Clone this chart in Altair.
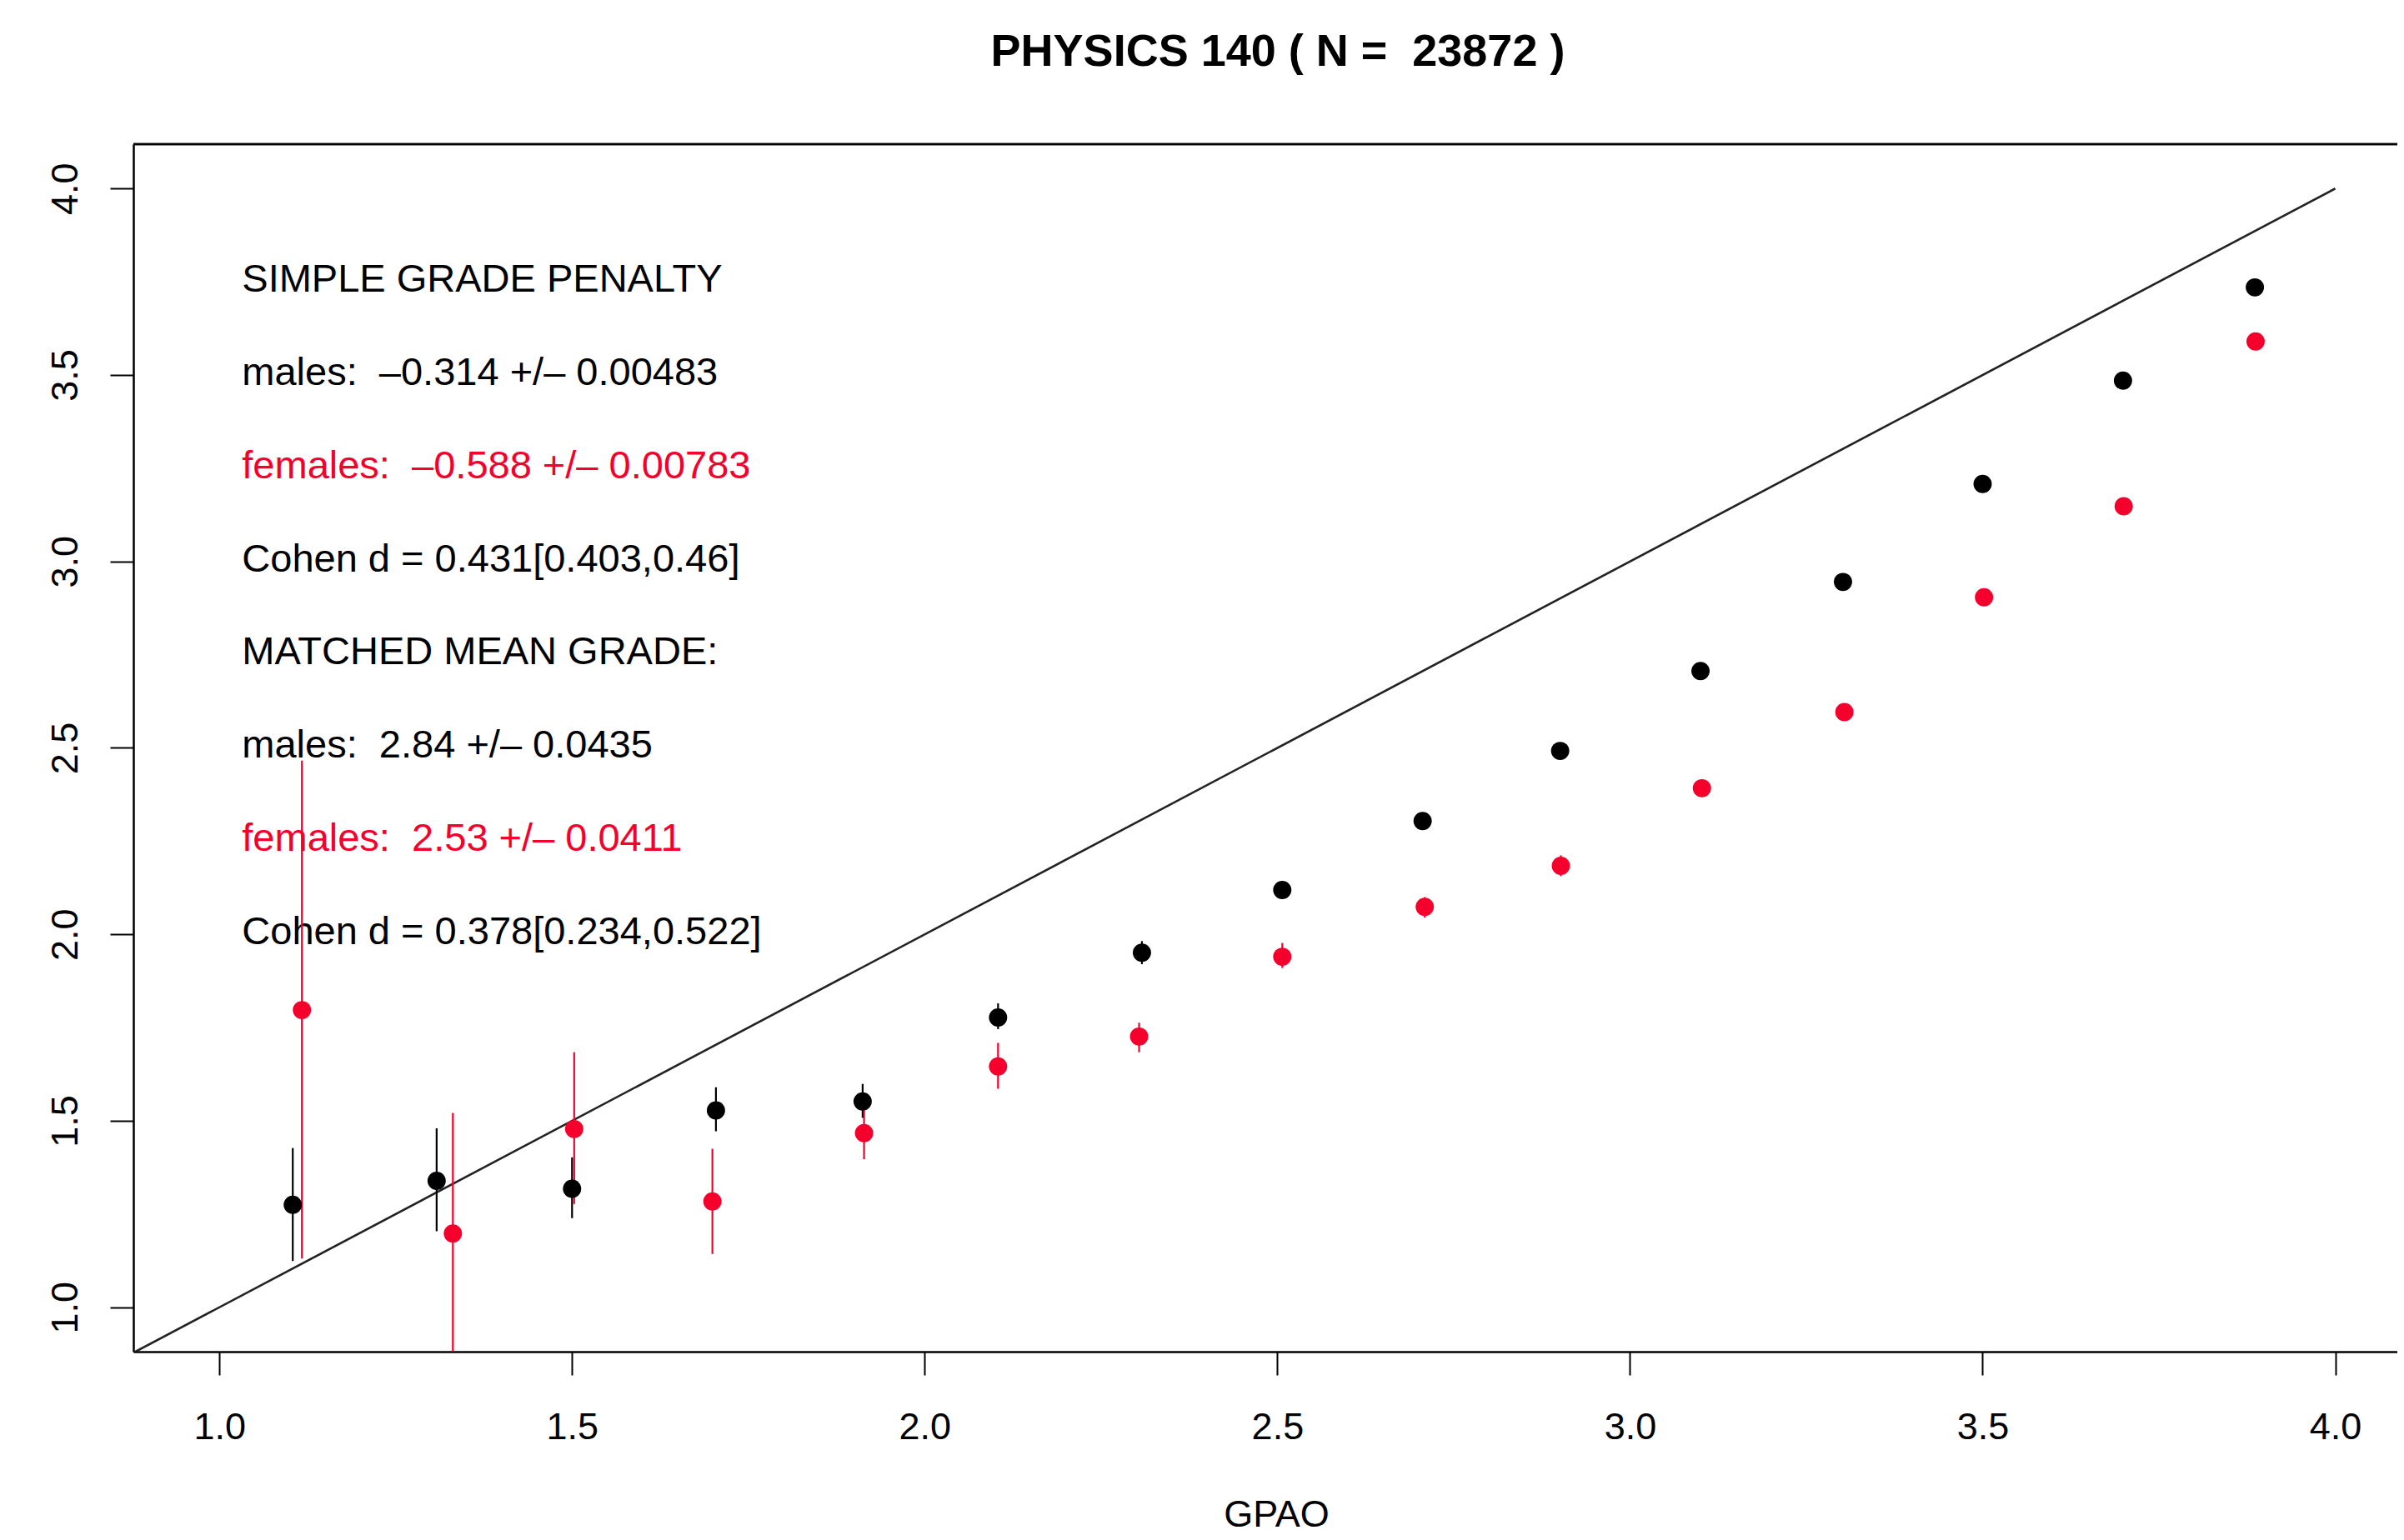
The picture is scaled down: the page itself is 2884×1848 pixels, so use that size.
import altair as alt
import pandas as pd

# ---------------- data ----------------
gpao_m = [1.104, 1.308, 1.500, 1.704, 1.912, 2.104, 2.308, 2.507, 2.706, 2.901, 3.100, 3.302, 3.500, 3.699, 3.886]
grade_m = [1.275, 1.339, 1.318, 1.528, 1.552, 1.777, 1.951, 2.119, 2.304, 2.492, 2.706, 2.945, 3.208, 3.485, 3.735]
lo_m = [1.124, 1.204, 1.239, 1.472, 1.508, 1.746, 1.920, 2.098, 2.288, 2.478, 2.694, 2.934, 3.199, 3.478, 3.729]
hi_m = [1.427, 1.480, 1.402, 1.590, 1.599, 1.815, 1.982, 2.140, 2.320, 2.506, 2.718, 2.956, 3.217, 3.492, 3.741]

gpao_f = [1.117, 1.331, 1.503, 1.699, 1.914, 2.104, 2.304, 2.507, 2.709, 2.902, 3.102, 3.304, 3.502, 3.700, 3.887]
grade_f = [1.797, 1.198, 1.478, 1.284, 1.467, 1.646, 1.726, 1.940, 2.074, 2.184, 2.392, 2.596, 2.904, 3.148, 3.590]
lo_f = [1.131, 0.850, 1.277, 1.143, 1.397, 1.586, 1.684, 1.910, 2.045, 2.156, 2.370, 2.580, 2.890, 3.138, 3.580]
hi_f = [2.466, 1.521, 1.684, 1.425, 1.544, 1.709, 1.763, 1.977, 2.100, 2.212, 2.415, 2.612, 2.917, 3.160, 3.601]

groups = ["males", "females"]
tick_values = [1.0, 1.5, 2.0, 2.5, 3.0, 3.5, 4.0]

title_text = "PHYSICS 140 ( N =\u00a0 23872 )"
x_title = "GPAO"

NB = "\u00a0"
note_lines = [
    "SIMPLE GRADE PENALTY",
    f"males:{NB} \u20130.314 +/\u2013 0.00483",
    f"females:{NB} \u20130.588 +/\u2013 0.00783",
    "Cohen d = 0.431[0.403,0.46]",
    "MATCHED MEAN GRADE:",
    f"males:{NB} 2.84 +/\u2013 0.0435",
    f"females:{NB} 2.53 +/\u2013 0.0411",
    "Cohen d = 0.378[0.234,0.522]",
]
note_groups = ["other", "males", "females", "other", "other", "males", "females", "other"]
note_y = [3.755, 3.505, 3.255, 3.005, 2.755, 2.505, 2.255, 2.005]
note_x = 1.032

diag_x = [0.881, 4.0]
diag_y = [0.881, 4.0]

# ---------------- styling ----------------
RED = "#F5002D"
FONT = "Liberation Sans"
W, H = 2716, 1449
X_DOMAIN = [0.878, 4.088]
Y_DOMAIN = [0.881, 4.119]

pts = pd.DataFrame({
    "gpao": gpao_m + gpao_f,
    "grade": grade_m + grade_f,
    "lo": lo_m + lo_f,
    "hi": hi_m + hi_f,
    "group": [groups[0]] * len(gpao_m) + [groups[1]] * len(gpao_f),
})
notes = pd.DataFrame({
    "gpao": [note_x] * len(note_lines),
    "grade": note_y,
    "label": note_lines,
    "group": note_groups,
})
diag = pd.DataFrame({"gpao": diag_x, "grade": diag_y})

color_scale = alt.Scale(domain=["males", "females", "other"], range=["#000000", RED, "#000000"])

x_scale = alt.Scale(domain=X_DOMAIN, nice=False, zero=False)
y_scale = alt.Scale(domain=Y_DOMAIN, nice=False, zero=False)

x_axis = alt.Axis(
    values=tick_values, format=".1f", title=x_title, grid=False,
    domain=True, domainColor="#000000", domainWidth=2.5,
    ticks=True, tickSize=28, tickWidth=2, tickColor="#000000",
    labelFont=FONT, labelFontSize=45, labelColor="#000000", labelPadding=40,
    labelFlush=False, labelOverlap=False,
    titleFont=FONT, titleFontSize=45, titleFontWeight="normal", titleColor="#000000",
    titleX=1371, titleY=209, titleAlign="center", titleBaseline="alphabetic", titleAnchor="start",
)
y_axis = alt.Axis(
    values=tick_values, format=".1f", title=None, grid=False,
    domain=True, domainColor="#000000", domainWidth=2.5,
    ticks=True, tickSize=28, tickWidth=2, tickColor="#000000",
    labelFont=FONT, labelFontSize=45, labelColor="#000000", labelPadding=40,
    labelAngle=270, labelAlign="center", labelBaseline="alphabetic",
    labelFlush=False, labelOverlap=False,
)


def X(field="gpao"):
    return alt.X(f"{field}:Q", scale=x_scale, axis=x_axis, title=x_title)


def Y(field="grade"):
    return alt.Y(f"{field}:Q", scale=y_scale, axis=y_axis, title=None)


frame_top = alt.Chart(diag).mark_rule(color="#000000", strokeWidth=2.5).encode(
    x=alt.value(0), x2=alt.value(W), y=alt.value(0)
)

diag_line = alt.Chart(diag).mark_line(color="#222222", strokeWidth=2.6, clip=True).encode(
    x=X(), y=Y()
)

errbars = alt.Chart(pts).mark_rule(strokeWidth=2.2, clip=True).encode(
    x=X(), y=Y("lo"), y2="hi:Q",
    color=alt.Color("group:N", scale=color_scale, legend=None),
)

dots = alt.Chart(pts).mark_circle(size=480, opacity=1).encode(
    x=X(), y=Y(),
    color=alt.Color("group:N", scale=color_scale, legend=None),
)

text = alt.Chart(notes).mark_text(
    align="left", baseline="middle", font=FONT, fontSize=47
).encode(
    x=X(), y=Y(), text="label:N",
    color=alt.Color("group:N", scale=color_scale, legend=None),
)

chart = alt.layer(frame_top, diag_line, text, errbars, dots).properties(
    width=W, height=H,
    title=alt.Title(
        title_text, font=FONT, fontSize=54, fontWeight="bold", color="#000000",
        anchor="middle", dx=15, offset=82,
    ),
    autosize=alt.AutoSizeParams(type="none"),
    padding={"left": 152, "top": 165, "right": 0, "bottom": 218},
).configure_view(strokeWidth=0).configure(background="white")

chart.save("out.html", embed_options={"renderer": "svg", "actions": False})
